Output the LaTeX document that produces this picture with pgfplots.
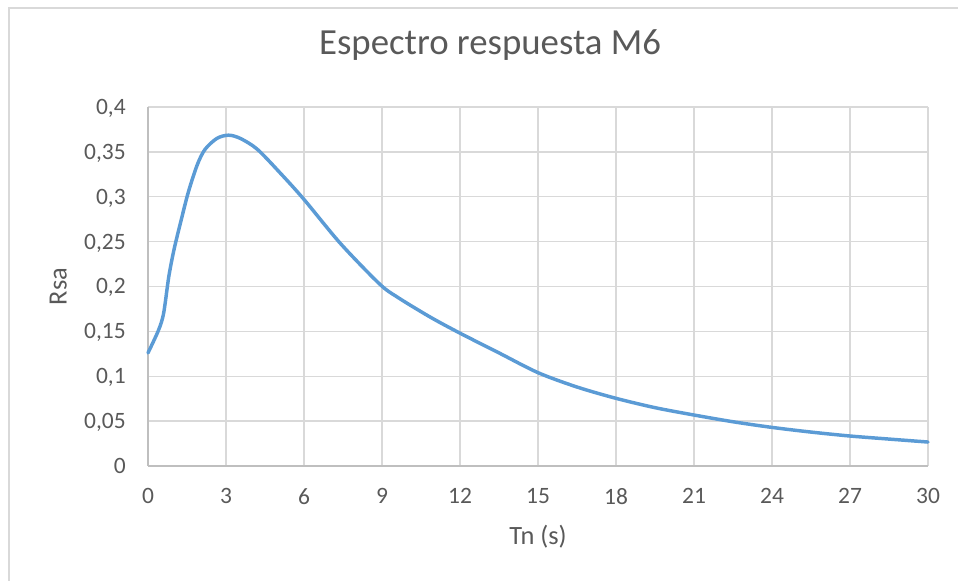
\documentclass[border=0pt]{standalone}
\usepackage{pgfplots}
\pgfplotsset{compat=1.18}
\usepackage{fontspec}
\setmainfont{Carlito}
\definecolor{line}{HTML}{5B9BD5}
\definecolor{gridc}{HTML}{D9D9D9}
\definecolor{axisc}{HTML}{BFBFBF}
\definecolor{txt}{HTML}{595959}
\begin{document}
\begin{tikzpicture}
\begin{axis}[
  at={(0pt,0pt)}, anchor=origin,
  scale only axis, width=585pt, height=269.25pt,
  xmin=0, xmax=30, ymin=0, ymax=0.4,
  xtick={0,3,...,30}, ytick={0,0.05,...,0.41},
  axis x line*=bottom, axis y line*=left,
  axis line style={draw=axisc, line width=1.1pt, -},
  major tick length=0pt,
  grid=major, major grid style={draw=gridc, line width=1.1pt},
  /pgf/number format/.cd, fixed, use comma, precision=2, assume math mode=true,
  /pgfplots/.cd,
  ticklabel style={font=\fontsize{17.6}{20}\selectfont, text=txt, inner sep=0pt},
  yticklabel style={anchor=base east, xshift=-16.5pt, yshift=-5.6pt},
  xticklabel style={anchor=north, yshift=-16.5pt},
  xlabel={Tn (s)}, ylabel={Rsa},
  xlabel style={at={(axis description cs:0.5,-0.2173)}, anchor=base, font=\fontsize{19.8}{22}\selectfont, text=txt, inner sep=0pt},
  ylabel style={at={(axis description cs:-0.1043,0.5)}, anchor=base, font=\fontsize{19.8}{22}\selectfont, text=txt, inner sep=0pt},
  title={Espectro respuesta M6},
  title style={at={(axis description cs:0.4385,1.1226)}, anchor=base, font=\fontsize{27.6}{30}\selectfont, text=txt, inner sep=0pt},
  clip=false,
]
\addplot[line, line width=2.6pt, smooth, tension=0.5, line cap=round, line join=round] coordinates {
(0,0.126) (0.4,0.151) (0.6,0.170) (0.8,0.211) (1.0,0.241) (1.25,0.271) (1.55,0.305)
(1.9,0.336) (2.2,0.353) (2.65,0.365) (3.1,0.3686) (3.55,0.365) (4.2,0.353)
(5.1,0.326) (6,0.297) (7.4,0.248) (8.9,0.203) (9.6,0.188) (10.85,0.166) (12,0.148)
(13.5,0.126) (15,0.104) (16.5,0.088) (18,0.0754) (19.5,0.065) (21,0.0568)
(22.5,0.0493) (24,0.043) (25.5,0.0378) (27,0.0334) (28.5,0.030) (30,0.0267)
};
\end{axis}
\draw[gridc, line width=0.9pt] (-104.25pt,-86.25pt) -- (-104.25pt,343.5pt) -- (607.5pt,343.5pt);
\pgfresetboundingbox
\useasboundingbox (-111pt,-86.25pt) rectangle (607.5pt,349.5pt);
\end{tikzpicture}
\end{document}
